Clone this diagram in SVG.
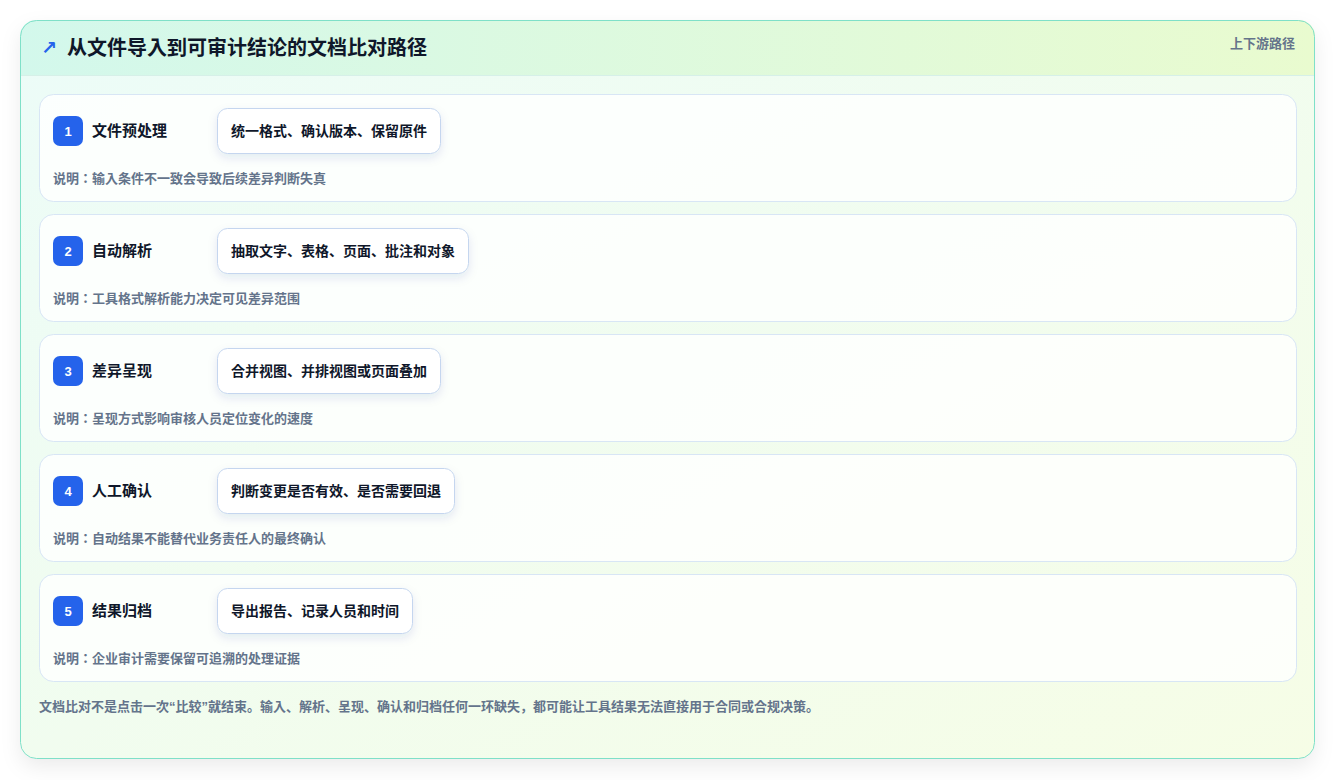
<svg xmlns="http://www.w3.org/2000/svg" width="1336" height="780" viewBox="0 0 1336 780">
<defs>
<linearGradient id="bodyG" x1="0" y1="0" x2="1" y2="1">
<stop offset="0" stop-color="#ecfcf8"/>
<stop offset="1" stop-color="#f6fde6"/>
</linearGradient>
<linearGradient id="headG" x1="0" y1="0" x2="1" y2="0">
<stop offset="0" stop-color="#d3f8ec"/>
<stop offset="1" stop-color="#e9fbcf"/>
</linearGradient>
<clipPath id="cardClip"><rect x="20" y="20" width="1295" height="739" rx="16"/></clipPath>
<filter id="cardShadow" x="-5%" y="-5%" width="110%" height="115%">
<feDropShadow dx="0" dy="8" stdDeviation="10" flood-color="#0f172a" flood-opacity="0.08"/>
</filter>
<filter id="pillShadow" x="-20%" y="-40%" width="140%" height="200%">
<feDropShadow dx="0" dy="4" stdDeviation="5" flood-color="#1e3a8a" flood-opacity="0.10"/>
</filter>
<style>
text{font-family:"Liberation Sans","Noto Sans CJK KR",sans-serif;}
.row{fill:#ffffff;fill-opacity:0.8;stroke:#d8e6f5;stroke-width:1;}
.badge{fill:#2563eb;}
.num{fill:#ffffff;font-size:13px;font-weight:700;}
.ttl{fill:#0f172a;font-size:15px;font-weight:700;}
.pill{fill:#ffffff;stroke:#c5d6ef;stroke-width:1;}
.ptxt{fill:#0f172a;font-size:14px;font-weight:700;}
.desc{fill:#64748b;font-size:13px;font-weight:700;}
</style>
</defs>
<rect x="20.5" y="20.5" width="1294" height="738" rx="16" fill="url(#bodyG)" filter="url(#cardShadow)"/>
<g clip-path="url(#cardClip)">
<rect x="20" y="20" width="1295" height="55" fill="url(#headG)"/>
<line x1="20" y1="75.5" x2="1315" y2="75.5" stroke="#d6f0e8" stroke-width="1"/>
</g>
<rect x="20.5" y="20.5" width="1294" height="738" rx="16" fill="none" stroke="#7fe0c8" stroke-width="1"/>
<g id="header">
<text x="41" y="54" fill="#2563eb" font-size="19" font-weight="700" style="font-family:'DejaVu Sans',sans-serif">↗</text>
<text x="67" y="55" fill="#0f172a" font-size="20" font-weight="700">从文件导入到可审计结论的文档比对路径</text>
<text x="1295" y="48" text-anchor="end" fill="#64748b" font-size="13" font-weight="700">上下游路径</text>
</g>
<g id="connectors"></g>
<g id="step1">
<rect class="row" x="39.5" y="94.5" width="1257" height="107" rx="14"/>
<rect class="badge" x="53" y="116" width="30" height="30" rx="7"/>
<text class="num" x="68" y="135.5" text-anchor="middle">1</text>
<text class="ttl" x="92" y="136">文件预处理</text>
<rect class="pill" x="217.5" y="108.5" width="223" height="45" rx="10" filter="url(#pillShadow)"/>
<text class="ptxt" x="231" y="136">统一格式、确认版本、保留原件</text>
<text class="desc" x="53" y="183">说明：输入条件不一致会导致后续差异判断失真</text>
</g>
<g id="step2">
<rect class="row" x="39.5" y="214.5" width="1257" height="107" rx="14"/>
<rect class="badge" x="53" y="236" width="30" height="30" rx="7"/>
<text class="num" x="68" y="255.5" text-anchor="middle">2</text>
<text class="ttl" x="92" y="256">自动解析</text>
<rect class="pill" x="217.5" y="228.5" width="251" height="45" rx="10" filter="url(#pillShadow)"/>
<text class="ptxt" x="231" y="256">抽取文字、表格、页面、批注和对象</text>
<text class="desc" x="53" y="303">说明：工具格式解析能力决定可见差异范围</text>
</g>
<g id="step3">
<rect class="row" x="39.5" y="334.5" width="1257" height="107" rx="14"/>
<rect class="badge" x="53" y="356" width="30" height="30" rx="7"/>
<text class="num" x="68" y="375.5" text-anchor="middle">3</text>
<text class="ttl" x="92" y="376">差异呈现</text>
<rect class="pill" x="217.5" y="348.5" width="223" height="45" rx="10" filter="url(#pillShadow)"/>
<text class="ptxt" x="231" y="376">合并视图、并排视图或页面叠加</text>
<text class="desc" x="53" y="423">说明：呈现方式影响审核人员定位变化的速度</text>
</g>
<g id="step4">
<rect class="row" x="39.5" y="454.5" width="1257" height="107" rx="14"/>
<rect class="badge" x="53" y="476" width="30" height="30" rx="7"/>
<text class="num" x="68" y="495.5" text-anchor="middle">4</text>
<text class="ttl" x="92" y="496">人工确认</text>
<rect class="pill" x="217.5" y="468.5" width="237" height="45" rx="10" filter="url(#pillShadow)"/>
<text class="ptxt" x="231" y="496">判断变更是否有效、是否需要回退</text>
<text class="desc" x="53" y="543">说明：自动结果不能替代业务责任人的最终确认</text>
</g>
<g id="step5">
<rect class="row" x="39.5" y="574.5" width="1257" height="107" rx="14"/>
<rect class="badge" x="53" y="596" width="30" height="30" rx="7"/>
<text class="num" x="68" y="615.5" text-anchor="middle">5</text>
<text class="ttl" x="92" y="616">结果归档</text>
<rect class="pill" x="217.5" y="588.5" width="195" height="45" rx="10" filter="url(#pillShadow)"/>
<text class="ptxt" x="231" y="616">导出报告、记录人员和时间</text>
<text class="desc" x="53" y="663">说明：企业审计需要保留可追溯的处理证据</text>
</g>
<g id="footer">
<text class="desc" x="39" y="711">文档比对不是点击一次“比较”就结束。输入、解析、呈现、确认和归档任何一环缺失，都可能让工具结果无法直接用于合同或合规决策。</text>
</g>
</svg>
